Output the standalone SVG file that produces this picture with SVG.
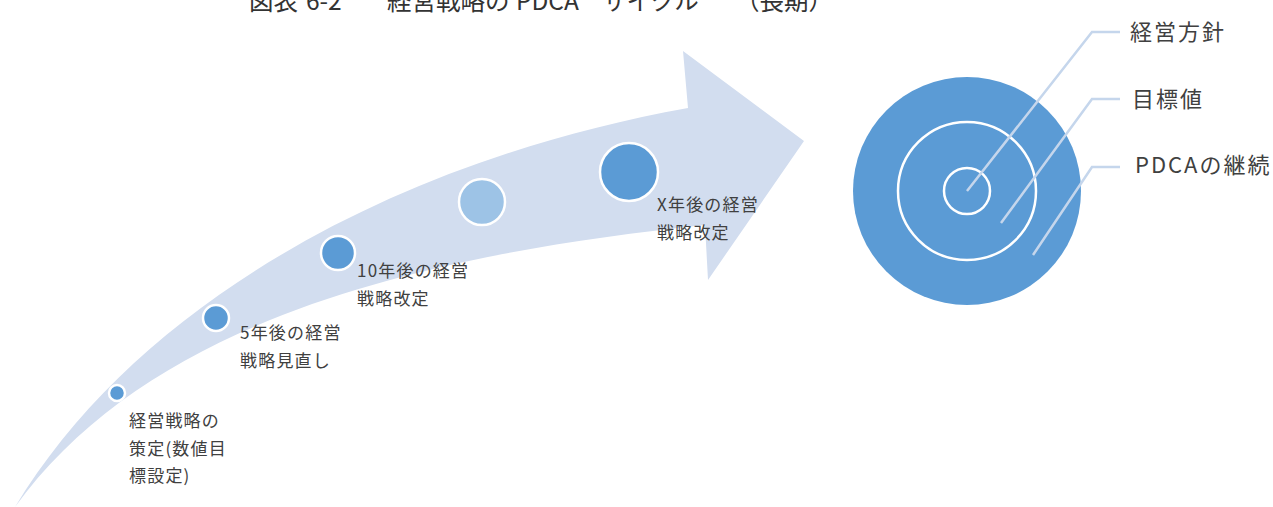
<svg xmlns="http://www.w3.org/2000/svg" width="1273" height="507" viewBox="0 0 1273 507">
<style>
  text { font-family: "Noto Sans CJK JP", "Noto Sans", sans-serif; fill: #404040; }
  .lbl { font-size: 17px; letter-spacing: 1.2px; }
  .rl { font-size: 22px; letter-spacing: 2px; }
  .title { font-size: 24.5px; fill: #333333; }
  .dot { fill: #5b9bd5; stroke: #ffffff; stroke-width: 2.5; }
  .dotl { fill: #9dc3e6; stroke: #ffffff; stroke-width: 2.5; }
  .ring { fill: none; stroke: #ffffff; stroke-width: 2.5; }
  .lead { fill: none; stroke: #c5d6ec; stroke-width: 2.5; }
</style>
<rect width="1273" height="507" fill="#ffffff"/>
<g id="title">
  <text class="title" y="9.5"><tspan x="249">図表</tspan><tspan x="306">6-2</tspan><tspan x="387">経営戦略の</tspan><tspan x="516">PDCA</tspan><tspan x="602">サイクル</tspan><tspan x="735">（長期）</tspan></text>
</g>
<g id="arrow">
  <path d="M 15,507 C 140,300 400,160 688,108 L 683,51 L 804,141 L 708,280 L 705,225 C 420,255 150,320 15,507 Z" fill="#d2ddef"/>
</g>
<g id="step1">
  <circle class="dot" cx="117" cy="393" r="8"/>
  <text class="lbl" x="129" y="427">経営戦略の</text>
  <text class="lbl" x="129" y="455">策定(数値目</text>
  <text class="lbl" x="129" y="482">標設定)</text>
</g>
<g id="step2">
  <circle class="dot" cx="216" cy="318" r="13"/>
  <text class="lbl" x="240" y="339">5年後の経営</text>
  <text class="lbl" x="240" y="367">戦略見直し</text>
</g>
<g id="step3">
  <circle class="dot" cx="338" cy="253" r="17"/>
  <text class="lbl" x="357" y="277">10年後の経営</text>
  <text class="lbl" x="357" y="305">戦略改定</text>
</g>
<g id="step4">
  <circle class="dotl" cx="482" cy="202" r="23"/>
</g>
<g id="step5">
  <circle class="dot" cx="629" cy="172" r="29"/>
  <text class="lbl" x="657" y="211">X年後の経営</text>
  <text class="lbl" x="657" y="239">戦略改定</text>
</g>
<g id="target">
  <circle cx="967" cy="191" r="114" fill="#5b9bd5"/>
  <circle class="ring" cx="967" cy="191" r="69"/>
  <circle class="ring" cx="967" cy="191" r="23"/>
</g>
<g id="connectors">
  <polyline class="lead" points="967,191 1092,32 1120,32"/>
  <polyline class="lead" points="1001,223 1092,99 1120,99"/>
  <polyline class="lead" points="1033,255 1092,167 1120,167"/>
</g>
<g id="label-policy">
  <text class="rl" x="1130" y="40">経営方針</text>
</g>
<g id="label-target">
  <text class="rl" x="1132" y="107">目標値</text>
</g>
<g id="label-pdca">
  <text class="rl" x="1135" y="173">PDCAの継続</text>
</g>
</svg>
